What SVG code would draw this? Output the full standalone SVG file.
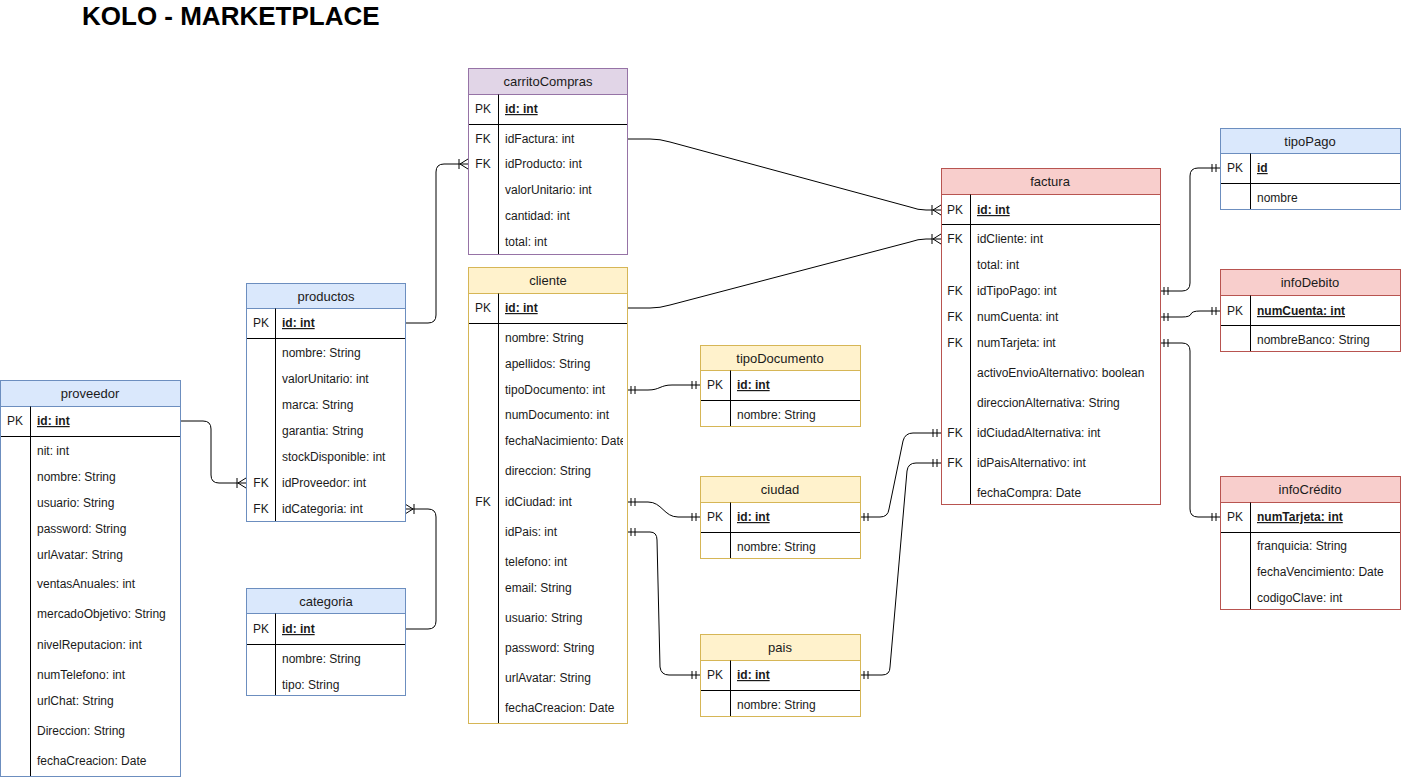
<svg xmlns="http://www.w3.org/2000/svg" width="1401" height="779" viewBox="0 0 1401 779">
<style>
text{font-family:"Liberation Sans",Arial,Helvetica,sans-serif;fill:#1a1a1a}
.h{font-size:13px;text-anchor:middle}
.f{font-size:12px}
.k{font-size:12px;text-anchor:middle}
.pk{font-size:12px;font-weight:bold;text-decoration:underline}
.blue{fill:#dae8fc;stroke:#6c8ebf}
.purple{fill:#e1d5e7;stroke:#9673a6}
.yellow{fill:#fff2cc;stroke:#d6b656}
.red{fill:#f8cecc;stroke:#b85450}
.body{fill:#fff}
.d{stroke:#000;stroke-width:1;fill:none}
.c{stroke:#000;stroke-width:1;fill:none}
.title{font-size:26px;font-weight:bold;fill:#000}
</style>
<defs>
<marker id="many" markerUnits="userSpaceOnUse" viewBox="-12 -7 14 14" refX="0" refY="0" markerWidth="14" markerHeight="14" orient="auto-start-reverse" overflow="visible">
<path d="M-9,-5V5M-8,0L0,-5M-8,0L0,5" stroke="#000" fill="none" stroke-width="1"/>
</marker>
<marker id="one" markerUnits="userSpaceOnUse" viewBox="-12 -7 14 14" refX="0" refY="0" markerWidth="14" markerHeight="14" orient="auto-start-reverse" overflow="visible">
<path d="M-4,-4V4M-8,-4V4" stroke="#000" fill="none" stroke-width="1"/>
</marker>
<clipPath id="clipCli"><rect x="468" y="267" width="155" height="456"/></clipPath>
</defs>

<text class="title" x="82" y="25">KOLO - MARKETPLACE</text>

<g id="connectors">
<path class="c" d="M181,421 H203 Q211,421 211,429 V475 Q211,483 219,483 H246" marker-end="url(#many)"/>
<path class="c" d="M405,323 H428 Q436,323 436,315 V172 Q436,164 444,164 H468" marker-end="url(#many)"/>
<path class="c" d="M405,629 H428 Q436,629 436,621 V517 Q436,509 428,509 H405" marker-end="url(#many)"/>
<path class="c" d="M627,139 H650 Q660,139 670,142 L910,207 Q918,210 926,210 H941" marker-end="url(#many)"/>
<path class="c" d="M627,308 H650 Q660,308 670,305 L910,242 Q918,239 926,239 H941" marker-end="url(#many)"/>
<path class="c" d="M627,390 H648 C660,390 660,385 672,385 H700" marker-start="url(#one)" marker-end="url(#one)"/>
<path class="c" d="M627,502 H648 C662,502 664,517 678,517 H700" marker-start="url(#one)" marker-end="url(#one)"/>
<path class="c" d="M627,532 H650 Q657,532 657,540 L660,667 Q661,675 669,675 H700" marker-start="url(#one)" marker-end="url(#one)"/>
<path class="c" d="M860,517 H880 Q888,517 889,509 L903,441 Q905,433 913,433 H941" marker-start="url(#one)" marker-end="url(#one)"/>
<path class="c" d="M860,675 H882 Q890,675 890,667 L907,471 Q908,463 916,463 H941" marker-start="url(#one)" marker-end="url(#one)"/>
<path class="c" d="M1160,291 H1182 Q1190,291 1190,283 V176 Q1190,168 1198,168 H1220" marker-start="url(#one)" marker-end="url(#one)"/>
<path class="c" d="M1160,317 H1182 Q1190,317 1191,314 Q1192,311 1200,311 H1220" marker-start="url(#one)" marker-end="url(#one)"/>
<path class="c" d="M1160,343 H1182 Q1190,343 1190,351 V509 Q1190,517 1198,517 H1220" marker-start="url(#one)" marker-end="url(#one)"/>
</g>

<g id="proveedor">
<rect class="body" x="0.5" y="380.5" width="180" height="396" stroke="#6c8ebf"/>
<rect class="blue" x="0.5" y="380.5" width="180" height="26"/>
<path class="d" d="M0.5,436.5H180.5M30.5,406.5V776.5"/>
<rect x="0.5" y="380.5" width="180" height="396" fill="none" stroke="#6c8ebf"/>
<text class="h" x="90" y="398">proveedor</text>
<text class="k" x="15" y="425">PK</text>
<text class="pk" x="37" y="425">id: int</text>
<text class="f" x="37" y="455">nit: int</text>
<text class="f" x="37" y="481">nombre: String</text>
<text class="f" x="37" y="507">usuario: String</text>
<text class="f" x="37" y="533">password: String</text>
<text class="f" x="37" y="559">urlAvatar: String</text>
<text class="f" x="37" y="588">ventasAnuales: int</text>
<text class="f" x="37" y="618">mercadoObjetivo: String</text>
<text class="f" x="37" y="649">nivelReputacion: int</text>
<text class="f" x="37" y="679">numTelefono: int</text>
<text class="f" x="37" y="705">urlChat: String</text>
<text class="f" x="37" y="735">Direccion: String</text>
<text class="f" x="37" y="765">fechaCreacion: Date</text>
</g>

<g id="productos">
<rect class="body" x="246.5" y="283.5" width="159" height="238"/>
<rect class="blue" x="246.5" y="283.5" width="159" height="25"/>
<path class="d" d="M246.5,338.5H405.5M275.5,308.5V521.5"/>
<rect x="246.5" y="283.5" width="159" height="238" fill="none" stroke="#6c8ebf"/>
<text class="h" x="326" y="301">productos</text>
<text class="k" x="261" y="327">PK</text>
<text class="pk" x="282" y="327">id: int</text>
<text class="f" x="282" y="357">nombre: String</text>
<text class="f" x="282" y="383">valorUnitario: int</text>
<text class="f" x="282" y="409">marca: String</text>
<text class="f" x="282" y="435">garantia: String</text>
<text class="f" x="282" y="461">stockDisponible: int</text>
<text class="k" x="261" y="487">FK</text>
<text class="f" x="282" y="487">idProveedor: int</text>
<text class="k" x="261" y="513">FK</text>
<text class="f" x="282" y="513">idCategoria: int</text>
</g>

<g id="categoria">
<rect class="body" x="246.5" y="588.5" width="159" height="107"/>
<rect class="blue" x="246.5" y="588.5" width="159" height="25"/>
<path class="d" d="M246.5,644.5H405.5M275.5,613.5V695.5"/>
<rect x="246.5" y="588.5" width="159" height="107" fill="none" stroke="#6c8ebf"/>
<text class="h" x="326" y="606">categoria</text>
<text class="k" x="261" y="633">PK</text>
<text class="pk" x="282" y="633">id: int</text>
<text class="f" x="282" y="663">nombre: String</text>
<text class="f" x="282" y="689">tipo: String</text>
</g>

<g id="carritoCompras">
<rect class="body" x="468.5" y="68.5" width="159" height="186"/>
<rect class="purple" x="468.5" y="68.5" width="159" height="26"/>
<path class="d" d="M468.5,124.5H627.5M498.5,94.5V254.5"/>
<rect x="468.5" y="68.5" width="159" height="186" fill="none" stroke="#9673a6"/>
<text class="h" x="548" y="86">carritoCompras</text>
<text class="k" x="483" y="113">PK</text>
<text class="pk" x="505" y="113">id: int</text>
<text class="k" x="483" y="143">FK</text>
<text class="f" x="505" y="143">idFactura: int</text>
<text class="k" x="483" y="168">FK</text>
<text class="f" x="505" y="168">idProducto: int</text>
<text class="f" x="505" y="194">valorUnitario: int</text>
<text class="f" x="505" y="220">cantidad: int</text>
<text class="f" x="505" y="246">total: int</text>
</g>

<g id="cliente">
<rect class="body" x="468.5" y="267.5" width="159" height="456"/>
<rect class="yellow" x="468.5" y="267.5" width="159" height="26"/>
<path class="d" d="M468.5,323.5H627.5M498.5,293.5V723.5"/>
<rect x="468.5" y="267.5" width="159" height="456" fill="none" stroke="#d6b656"/>
<text class="h" x="548" y="285">cliente</text>
<g clip-path="url(#clipCli)">
<text class="k" x="483" y="312">PK</text>
<text class="pk" x="505" y="312">id: int</text>
<text class="f" x="505" y="342">nombre: String</text>
<text class="f" x="505" y="368">apellidos: String</text>
<text class="f" x="505" y="394">tipoDocumento: int</text>
<text class="f" x="505" y="419">numDocumento: int</text>
<text class="f" x="505" y="445">fechaNacimiento: Date</text>
<text class="f" x="505" y="475">direccion: String</text>
<text class="k" x="483" y="506">FK</text>
<text class="f" x="505" y="506">idCiudad: int</text>
<text class="f" x="505" y="536">idPais: int</text>
<text class="f" x="505" y="566">telefono: int</text>
<text class="f" x="505" y="592">email: String</text>
<text class="f" x="505" y="622">usuario: String</text>
<text class="f" x="505" y="652">password: String</text>
<text class="f" x="505" y="682">urlAvatar: String</text>
<text class="f" x="505" y="712">fechaCreacion: Date</text>
</g>
</g>

<g id="tipoDocumento">
<rect class="body" x="700.5" y="345.5" width="160" height="81"/>
<rect class="yellow" x="700.5" y="345.5" width="160" height="25"/>
<path class="d" d="M700.5,400.5H860.5M730.5,370.5V426.5"/>
<rect x="700.5" y="345.5" width="160" height="81" fill="none" stroke="#d6b656"/>
<text class="h" x="780" y="363">tipoDocumento</text>
<text class="k" x="715" y="389">PK</text>
<text class="pk" x="737" y="389">id: int</text>
<text class="f" x="737" y="419">nombre: String</text>
</g>

<g id="ciudad">
<rect class="body" x="700.5" y="476.5" width="160" height="82"/>
<rect class="yellow" x="700.5" y="476.5" width="160" height="26"/>
<path class="d" d="M700.5,532.5H860.5M730.5,502.5V558.5"/>
<rect x="700.5" y="476.5" width="160" height="82" fill="none" stroke="#d6b656"/>
<text class="h" x="780" y="494">ciudad</text>
<text class="k" x="715" y="521">PK</text>
<text class="pk" x="737" y="521">id: int</text>
<text class="f" x="737" y="551">nombre: String</text>
</g>

<g id="pais">
<rect class="body" x="700.5" y="634.5" width="160" height="82"/>
<rect class="yellow" x="700.5" y="634.5" width="160" height="26"/>
<path class="d" d="M700.5,690.5H860.5M730.5,660.5V716.5"/>
<rect x="700.5" y="634.5" width="160" height="82" fill="none" stroke="#d6b656"/>
<text class="h" x="780" y="652">pais</text>
<text class="k" x="715" y="679">PK</text>
<text class="pk" x="737" y="679">id: int</text>
<text class="f" x="737" y="709">nombre: String</text>
</g>

<g id="factura">
<rect class="body" x="941.5" y="168.5" width="219" height="336"/>
<rect class="red" x="941.5" y="168.5" width="219" height="26"/>
<path class="d" d="M941.5,224.5H1160.5M970.5,194.5V504.5"/>
<rect x="941.5" y="168.5" width="219" height="336" fill="none" stroke="#b85450"/>
<text class="h" x="1050" y="186">factura</text>
<text class="k" x="955" y="214">PK</text>
<text class="pk" x="977" y="214">id: int</text>
<text class="k" x="955" y="243">FK</text>
<text class="f" x="977" y="243">idCliente: int</text>
<text class="f" x="977" y="269">total: int</text>
<text class="k" x="955" y="295">FK</text>
<text class="f" x="977" y="295">idTipoPago: int</text>
<text class="k" x="955" y="321">FK</text>
<text class="f" x="977" y="321">numCuenta: int</text>
<text class="k" x="955" y="347">FK</text>
<text class="f" x="977" y="347">numTarjeta: int</text>
<text class="f" x="977" y="377">activoEnvioAlternativo: boolean</text>
<text class="f" x="977" y="407">direccionAlternativa: String</text>
<text class="k" x="955" y="437">FK</text>
<text class="f" x="977" y="437">idCiudadAlternativa: int</text>
<text class="k" x="955" y="467">FK</text>
<text class="f" x="977" y="467">idPaisAlternativo: int</text>
<text class="f" x="977" y="497">fechaCompra: Date</text>
</g>

<g id="tipoPago">
<rect class="body" x="1220.5" y="128.5" width="180" height="81"/>
<rect class="blue" x="1220.5" y="128.5" width="180" height="25"/>
<path class="d" d="M1220.5,183.5H1400.5M1250.5,153.5V209.5"/>
<rect x="1220.5" y="128.5" width="180" height="81" fill="none" stroke="#6c8ebf"/>
<text class="h" x="1310" y="146">tipoPago</text>
<text class="k" x="1235" y="172">PK</text>
<text class="pk" x="1257" y="172">id</text>
<text class="f" x="1257" y="202">nombre</text>
</g>

<g id="infoDebito">
<rect class="body" x="1220.5" y="269.5" width="180" height="82"/>
<rect class="red" x="1220.5" y="269.5" width="180" height="26"/>
<path class="d" d="M1220.5,325.5H1400.5M1250.5,295.5V351.5"/>
<rect x="1220.5" y="269.5" width="180" height="82" fill="none" stroke="#b85450"/>
<text class="h" x="1310" y="287">infoDebito</text>
<text class="k" x="1235" y="315">PK</text>
<text class="pk" x="1257" y="315">numCuenta: int</text>
<text class="f" x="1257" y="344">nombreBanco: String</text>
</g>

<g id="infoCredito">
<rect class="body" x="1220.5" y="476.5" width="180" height="133"/>
<rect class="red" x="1220.5" y="476.5" width="180" height="26"/>
<path class="d" d="M1220.5,532.5H1400.5M1250.5,502.5V609.5"/>
<rect x="1220.5" y="476.5" width="180" height="133" fill="none" stroke="#b85450"/>
<text class="h" x="1310" y="494">infoCrédito</text>
<text class="k" x="1235" y="521">PK</text>
<text class="pk" x="1257" y="521">numTarjeta: int</text>
<text class="f" x="1257" y="550">franquicia: String</text>
<text class="f" x="1257" y="576">fechaVencimiento: Date</text>
<text class="f" x="1257" y="602">codigoClave: int</text>
</g>
</svg>
